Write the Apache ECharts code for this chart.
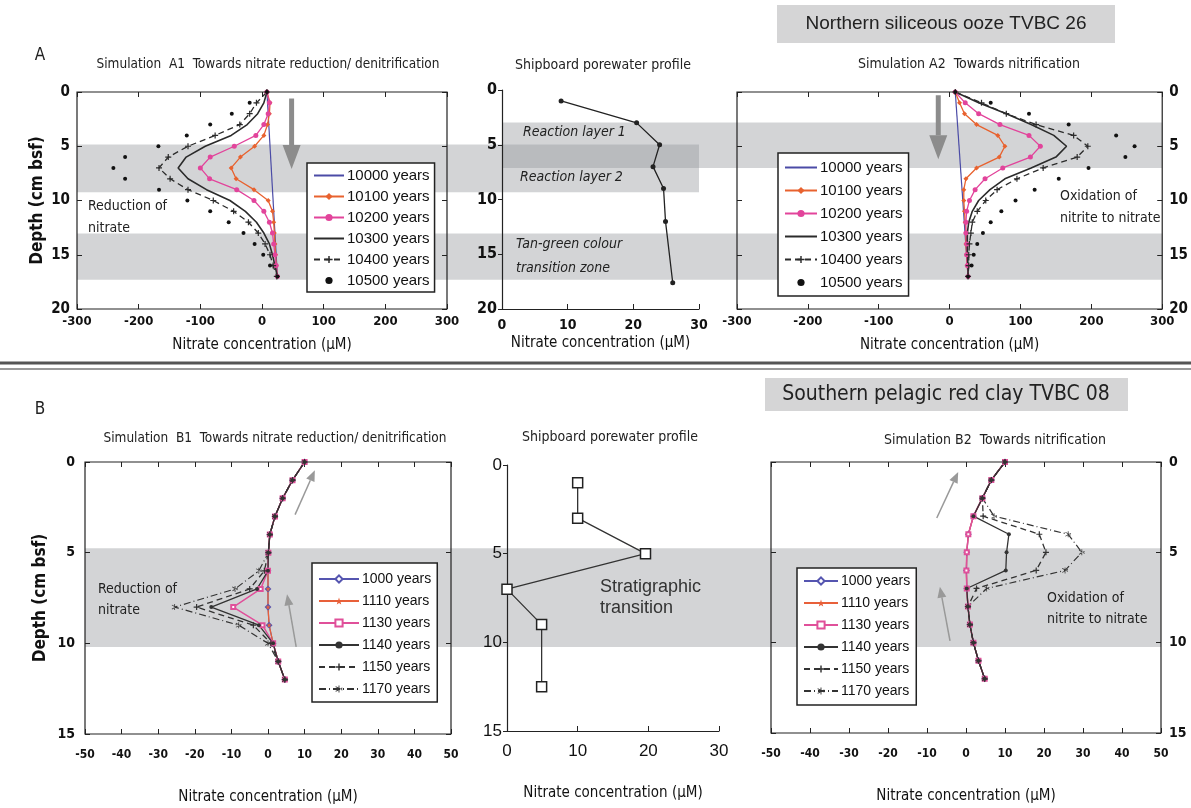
<!DOCTYPE html>
<html>
<head>
<meta charset="utf-8">
<script src="https://cdn.jsdelivr.net/npm/echarts@6/dist/echarts.min.js"></script>
<style>
html, body { margin: 0; padding: 0; background: #fff; }
#chart { width: 1191px; height: 808px; }
</style>
</head>
<body>
<div id="chart"></div>
<script>
// ---- data: panel A (Northern siliceous ooze TVBC 26) ----
const depthA = [0, 1, 2, 3, 4, 5, 6, 7, 8, 9, 10, 11, 12, 13, 14, 15, 16, 17];
const depthLine = [0, 17];
const namesA = ['10000 years', '10100 years', '10200 years', '10300 years', '10400 years', '10500 years'];

const a1_10000 = [8, 25];
const a1_10100 = [8, 13, 12, 9, 3, -12, -35, -50, -42, -13, 10, 17, 19, 20, 21, 22, 23, 25];
const a1_10200 = [8, 12, 10, 3, -10, -45, -84, -100, -85, -41, -13, 3, 12, 17, 19, 21, 23, 25];
const a1_10300 = [8, 3, -7, -24, -50, -92, -123, -136, -120, -90, -52, -27, -9, 3, 12, 17, 21, 25];
const a1_10400 = [8, -9, -20, -36, -76, -120, -152, -167, -149, -120, -79, -46, -22, -6, 5, 13, 18, 24];
const a1_10500 = [8, -20, -49, -84, -122, -168, -222, -241, -222, -167, -121, -84, -54, -30, -12, 2, 13, 25];

const a2_10000 = [8, 26];
const a2_10100 = [8, 14, 21, 38, 68, 78, 70, 38, 23, 20, 20, 21, 22, 23, 23, 24, 25, 26];
const a2_10200 = [8, 22, 41, 71, 112, 128, 114, 75, 50, 36, 28, 24, 23, 23, 24, 24, 25, 26];
const a2_10300 = [8, 41, 80, 115, 147, 165, 150, 115, 78, 57, 41, 32, 27, 25, 25, 25, 26, 26];
const a2_10400 = [8, 45, 80, 122, 175, 195, 180, 132, 95, 67, 51, 39, 32, 30, 28, 27, 27, 26];
const a2_10500 = [8, 58, 112, 168, 235, 261, 248, 196, 154, 120, 93, 73, 58, 47, 39, 34, 31, 26];

const amNitrate = [9, 20.5, 24, 23, 24.6, 24.9, 26];
const amDepth = [1, 3, 5, 7, 9, 12, 17.6];

// ---- data: panel B (Southern pelagic red clay TVBC 08) ----
const depthB = [0, 1, 2, 3, 4, 5, 6, 7, 8, 9, 10, 11, 12];
const namesB = ['1000 years', '1110 years', '1130 years', '1140 years', '1150 years', '1170 years'];

const b1_1000 = [10, 6.7, 4.0, 1.9, 0.5, 0.1, 0, 0, 0, 0.3, 1.4, 2.8, 4.6];
const b1_1110 = [10, 6.7, 4.0, 1.9, 0.5, 0.1, 0, 0, 0, 0.3, 1.4, 2.8, 4.6];
const b1_1130 = [10, 6.7, 4.0, 1.9, 0.5, 0.1, 0, -2, -9.5, -1.5, 1.4, 2.8, 4.6];
const b1_1140 = [10, 6.7, 4.0, 1.9, 0.5, 0.1, 0, -3, -15.5, -2.5, 1.4, 2.8, 4.6];
const b1_1150 = [10, 6.7, 4.0, 1.9, 0.5, 0.1, -1, -5, -19.5, -4, 0.8, 2.8, 4.6];
const b1_1170 = [10, 6.7, 4.0, 1.9, 0.5, 0.1, -2.5, -9, -25.5, -8, 0, 2.8, 4.6];

const b2_1000 = [10, 6.5, 4.2, 1.9, 0.6, 0.2, 0.1, 0.2, 0.5, 1.0, 1.9, 3.2, 4.8];
const b2_1110 = [10, 6.5, 4.2, 1.9, 0.6, 0.2, 0.1, 0.2, 0.5, 1.0, 1.9, 3.2, 4.8];
const b2_1130 = [10, 6.5, 4.2, 1.9, 0.6, 0.2, 0.1, 0.2, 0.5, 1.0, 1.9, 3.2, 4.8];
const b2_1140 = [10, 6.5, 4.2, 1.9, 11, 10.4, 10.2, 0.2, 0.5, 1.0, 1.9, 3.2, 4.8];
const b2_1150 = [10, 6.5, 4.2, 4.4, 18.8, 20.5, 18, 2.7, 0.5, 1.0, 1.9, 3.2, 4.8];
const b2_1170 = [10, 6.5, 4.2, 7.2, 26.2, 29.7, 25.4, 5.3, 0.5, 1.0, 1.9, 3.2, 4.8];

const bmNitrate = [10, 10, 19.6, 0, 4.9, 4.9];
const bmDepth = [1, 3, 5, 7, 9, 12.5];

// shaded layers (depth ranges, cm)
const layerA1 = [2.8, 7.0];    // reaction layer 1
const layerA2 = [4.85, 9.25];  // reaction layer 2
const layerA3 = [13.05, 17.3]; // tan-green colour transition zone
const layerB = [4.75, 10.2];   // stratigraphic transition

const NARROW = "'Liberation Sans Narrow', 'DejaVu Sans Condensed', sans-serif";
const SANS = "'Liberation Sans', Arial, sans-serif";
const PLUS = 'path://M4,0h2v4h4v2h-4v4h-2v-4h-4v-2h4z';
const STAR = 'path://M5,0L6.2,3.6L10,3.6L7,5.9L8.1,9.5L5,7.3L1.9,9.5L3,5.9L0,3.6L3.8,3.6Z';
const ASTER = 'path://M4.4,0h1.2v10h-1.2z M0.3,2.1l0.6,-1l8.8,5.1l-0.6,1z M0.3,7.9l0.6,1l8.8,-5.1l-0.6,-1z';

const chart = echarts.init(document.getElementById('chart'));

function pairs(vals, depths) {
    return depths.map((d, i) => [vals[i], d]);
}

function mk(name, vals, depths, g, st) {
    return Object.assign({
        type: 'line', name: name, xAxisIndex: g, yAxisIndex: g,
        data: pairs(vals, depths), silent: true, z: 3
    }, st);
}

const stA = [
    { symbol: 'none', lineStyle: { color: '#4b4ba6', width: 1.2 }, itemStyle: { color: '#4b4ba6' } },
    { symbol: 'diamond', symbolSize: 5, lineStyle: { color: '#e8622f', width: 1.3 }, itemStyle: { color: '#e8622f' } },
    { symbol: 'circle', symbolSize: 5, lineStyle: { color: '#e2449b', width: 1.3 }, itemStyle: { color: '#e2449b' } },
    { symbol: 'none', lineStyle: { color: '#2b2b2b', width: 1.6 }, itemStyle: { color: '#2b2b2b' } },
    { symbol: PLUS, symbolSize: 6, lineStyle: { color: '#2b2b2b', width: 1.3, type: [6, 4] }, itemStyle: { color: '#2b2b2b' } },
    { symbol: 'circle', symbolSize: 4, lineStyle: { width: 0, opacity: 0 }, itemStyle: { color: '#111' } }
];
const stB = [
    { symbol: 'emptyDiamond', symbolSize: 4, lineStyle: { color: '#5555b0', width: 1.2 }, itemStyle: { color: '#5555b0' } },
    { symbol: STAR, symbolSize: 5, lineStyle: { color: '#e8603a', width: 1.3 }, itemStyle: { color: '#e8603a' } },
    { symbol: 'emptyRect', symbolSize: 4, lineStyle: { color: '#e0509a', width: 1.5 }, itemStyle: { color: '#e0509a' } },
    { symbol: 'circle', symbolSize: 4, lineStyle: { color: '#333', width: 1.3 }, itemStyle: { color: '#333' } },
    { symbol: PLUS, symbolSize: 6, lineStyle: { color: '#333', width: 1.3, type: [6, 4] }, itemStyle: { color: '#333' } },
    { symbol: ASTER, symbolSize: 6, lineStyle: { color: '#333', width: 1.2, type: [7, 3, 1, 3] }, itemStyle: { color: '#333' } }
];

const a1Vals = [a1_10000, a1_10100, a1_10200, a1_10300, a1_10400, a1_10500];
const a2Vals = [a2_10000, a2_10100, a2_10200, a2_10300, a2_10400, a2_10500];
const b1Vals = [b1_1000, b1_1110, b1_1130, b1_1140, b1_1150, b1_1170];
const b2Vals = [b2_1000, b2_1110, b2_1130, b2_1140, b2_1150, b2_1170];

const series = [];
a1Vals.forEach((v, i) => series.push(mk(namesA[i], v, i === 0 ? depthLine : depthA, 0, stA[i])));
a2Vals.forEach((v, i) => series.push(mk(namesA[i], v, i === 0 ? depthLine : depthA, 2, stA[i])));
b1Vals.forEach((v, i) => series.push(mk(namesB[i], v, depthB, 3, stB[i])));
b2Vals.forEach((v, i) => series.push(mk(namesB[i], v, depthB, 5, stB[i])));
series.push(mk('A porewater', amNitrate, amDepth, 1, {
    symbol: 'circle', symbolSize: 5, lineStyle: { color: '#222', width: 1.3 }, itemStyle: { color: '#222' }
}));
series.push(mk('B porewater', bmNitrate, bmDepth, 4, {
    symbol: 'rect', symbolSize: 10, lineStyle: { color: '#333', width: 1.3 },
    itemStyle: { color: '#fff', borderColor: '#222', borderWidth: 1.5 }
}));

const boxGrid = { show: true, borderColor: '#222', borderWidth: 1.2, backgroundColor: 'transparent' };
const grids = [
    Object.assign({ left: 77, top: 92, width: 370, height: 217 }, boxGrid),
    { left: 502, top: 90, width: 197, height: 219 },
    Object.assign({ left: 737, top: 92, width: 433, height: 217 }, boxGrid),
    Object.assign({ left: 85, top: 462, width: 366, height: 272 }, boxGrid),
    { left: 507, top: 465, width: 212, height: 266 },
    Object.assign({ left: 771, top: 462, width: 390, height: 271 }, boxGrid)
];

const xName = 'Nitrate concentration (\u00b5M)';
const nameStyle = { fontFamily: NARROW, fontSize: 15, color: '#111' };
const hiddenLine = { show: false, onZero: false };
const openLine = { show: true, onZero: false, lineStyle: { color: '#222', width: 1.2 } };

function xAx(g, min, max, interval, o) {
    return Object.assign({
        type: 'value', gridIndex: g, min: min, max: max, interval: interval, position: 'bottom',
        axisLine: hiddenLine, splitLine: { show: false },
        axisTick: { inside: true, length: 5, lineStyle: { color: '#222' } },
        axisLabel: { fontFamily: NARROW, fontSize: 13, fontWeight: 'bold', color: '#111', margin: 6 },
        name: xName, nameLocation: 'middle', nameGap: 29, nameTextStyle: nameStyle
    }, o);
}
function yAx(g, max, pos, o) {
    return Object.assign({
        type: 'value', gridIndex: g, min: 0, max: max, interval: 5, inverse: true, position: pos,
        axisLine: hiddenLine, splitLine: { show: false },
        axisTick: { inside: true, length: 5, lineStyle: { color: '#222' } },
        axisLabel: { fontFamily: NARROW, fontSize: 15, fontWeight: 'bold', color: '#111', margin: 7 }
    }, o);
}
function mirrorX(g, min, max, interval) {
    return xAx(g, min, max, interval, { position: 'top', axisLabel: { show: false }, name: '' });
}
function mirrorY(g, max, pos) {
    return yAx(g, max, pos, { axisLabel: { show: false } });
}
const depthName = {
    name: 'Depth (cm bsf)', nameLocation: 'middle', nameRotate: 90,
    nameTextStyle: { fontFamily: NARROW, fontSize: 17, fontWeight: 'bold', color: '#111' }
};

const xAxes = [
    xAx(0, -300, 300, 100),
    xAx(1, 0, 30, 10, { axisLine: openLine, nameGap: 27, axisLabel: { fontFamily: NARROW, fontSize: 14, fontWeight: 'bold', color: '#111', margin: 9 } }),
    xAx(2, -300, 300, 100),
    xAx(3, -50, 50, 10, { nameGap: 56, axisLabel: { fontFamily: NARROW, fontSize: 12, fontWeight: 'bold', color: '#111', margin: 15 } }),
    xAx(4, 0, 30, 10, { axisLine: openLine, nameGap: 55, axisLabel: { fontFamily: SANS, fontSize: 17, color: '#111', margin: 12 } }),
    xAx(5, -50, 50, 10, { nameGap: 56, axisLabel: { fontFamily: NARROW, fontSize: 12, fontWeight: 'bold', color: '#111', margin: 15 } }),
    mirrorX(0, -300, 300, 100), mirrorX(2, -300, 300, 100), mirrorX(3, -50, 50, 10), mirrorX(5, -50, 50, 10)
];
const yAxes = [
    yAx(0, 20, 'left', Object.assign({ nameGap: 31 }, depthName)),
    yAx(1, 20, 'left', { axisLine: openLine, axisTick: { inside: false, length: 4, lineStyle: { color: '#222' } },
        axisLabel: { fontFamily: NARROW, fontSize: 16, fontWeight: 'bold', color: '#111', margin: 5 } }),
    yAx(2, 20, 'right'),
    yAx(3, 15, 'left', Object.assign({ nameGap: 36, axisLabel: { fontFamily: NARROW, fontSize: 14, fontWeight: 'bold', color: '#111', margin: 10 } }, depthName)),
    yAx(4, 15, 'left', { axisLine: openLine, axisTick: { inside: false, length: 4, lineStyle: { color: '#222' } },
        axisLabel: { fontFamily: SANS, fontSize: 17, color: '#111', margin: 5 } }),
    yAx(5, 15, 'right', { axisLabel: { fontFamily: NARROW, fontSize: 14, fontWeight: 'bold', color: '#111', margin: 8 } }),
    mirrorY(0, 20, 'right'), mirrorY(2, 20, 'left'), mirrorY(3, 15, 'right'), mirrorY(5, 15, 'left')
];

// legend entries; series drawn without markers get a plain line icon
function legendItems(names, styles) {
    return names.map((n, i) => styles[i].symbol === 'none' ? { name: n, itemStyle: { opacity: 0 } } : { name: n });
}
function legend(items, left, top, gap, pad, iw, fs) {
    return {
        data: items, orient: 'vertical', left: left, top: top, itemGap: gap, padding: pad,
        itemWidth: iw, itemHeight: 9, selectedMode: false, backgroundColor: '#fff',
        borderColor: '#222', borderWidth: 1.5, borderRadius: 0,
        textStyle: { fontFamily: SANS, fontSize: fs, color: '#111', padding: [0, 0, 0, -2] }
    };
}

chart.setOption({
    animation: false,
    grid: grids,
    xAxis: xAxes,
    yAxis: yAxes,
    legend: [
        legend(legendItems(namesA, stA), 307, 163, 6, [5, 5, 4, 6], 30, 15),
        legend(legendItems(namesA, stA), 778, 153, 8, [7, 6, 6, 6], 32, 15),
        legend(legendItems(namesB, stB), 312, 563, 8, [9, 6, 6, 6], 40, 14),
        legend(legendItems(namesB, stB), 797, 568, 8, [6, 6, 7, 6], 34, 14)
    ],
    series: series
});

// ---- annotations placed through the axes ----
const px = (g, v) => chart.convertToPixel({ xAxisIndex: g }, v);
const py = (g, d) => chart.convertToPixel({ yAxisIndex: g }, d);
const BAND = 'rgba(150,153,158,0.42)';

function band(x1, x2, y1, y2) {
    return { type: 'rect', shape: { x: x1, y: y1, width: x2 - x1, height: y2 - y1 }, style: { fill: BAND }, z: -5, silent: true };
}
function arrow(g, a, w, L, hw, color) {
    const p1 = [px(g, a[0]), py(g, a[1])], p2 = [px(g, a[2]), py(g, a[3])];
    const dx = p2[0] - p1[0], dy = p2[1] - p1[1], len = Math.hypot(dx, dy);
    const ux = dx / len, uy = dy / len;
    const bx = p2[0] - ux * L, by = p2[1] - uy * L;
    return [
        { type: 'line', shape: { x1: p1[0], y1: p1[1], x2: bx, y2: by }, style: { stroke: color, lineWidth: w }, z: 50 },
        { type: 'polygon', shape: { points: [p2, [bx - uy * hw, by + ux * hw], [bx + uy * hw, by - ux * hw]] }, style: { fill: color }, z: 50 }
    ];
}
function txt(x, y, text, font, align, o) {
    return {
        type: 'text', x: x, y: y, z: 60, silent: true,
        style: Object.assign({ text: text, font: font, fill: '#222', textAlign: align, align: align,
            textVerticalAlign: 'middle', verticalAlign: 'middle' }, o || {})
    };
}

const g = [];
g.push(band(px(1, 0), px(2, 300), py(2, layerA1[0]), py(2, layerA1[1])));
g.push(band(px(0, -300), px(1, 30), py(0, layerA2[0]), py(0, layerA2[1])));
g.push(band(px(0, -300), px(2, 300), py(0, layerA3[0]), py(0, layerA3[1])));
g.push(band(px(3, -50), px(5, 50), py(3, layerB[0]), py(3, layerB[1])));

// arrows: [x tail, depth tail, x tip, depth tip]
arrow(0, [48, 0.6, 48, 7.1], 5, 24, 9, '#8c8c8c').forEach(e => g.push(e));
arrow(2, [-16, 0.3, -16, 6.2], 5, 24, 9, '#8c8c8c').forEach(e => g.push(e));
arrow(3, [7.4, 2.9, 12.8, 0.45], 1.5, 11, 4.5, '#999').forEach(e => g.push(e));
arrow(3, [7.7, 10.2, 5.2, 7.3], 1.5, 11, 4.5, '#999').forEach(e => g.push(e));
arrow(5, [-7.5, 3.1, -2, 0.55], 1.5, 11, 4.5, '#999').forEach(e => g.push(e));
arrow(5, [-4.1, 9.9, -6.7, 6.9], 1.5, 11, 4.5, '#999').forEach(e => g.push(e));

// header boxes and separator
g.push({ type: 'rect', shape: { x: 777, y: 5, width: 338, height: 38 }, style: { fill: '#d5d5d6' }, z: 40 });
g.push(txt(946, 24, 'Northern siliceous ooze TVBC 26', '19px ' + SANS, 'center'));
g.push({ type: 'rect', shape: { x: 765, y: 378, width: 363, height: 33 }, style: { fill: '#d5d5d6' }, z: 40 });
g.push(txt(946, 395, 'Southern pelagic red clay TVBC 08', '21px ' + NARROW, 'center'));
g.push({ type: 'line', shape: { x1: 0, y1: 363, x2: 1191, y2: 363 }, style: { stroke: '#555', lineWidth: 3 }, z: 40 });
g.push({ type: 'line', shape: { x1: 0, y1: 369, x2: 1191, y2: 369 }, style: { stroke: '#777', lineWidth: 1.5 }, z: 40 });

g.push(txt(40, 56, 'A', '17px ' + NARROW, 'center'));
g.push(txt(40, 410, 'B', '17px ' + NARROW, 'center'));

// panel titles
g.push(txt(268, 64, 'Simulation  A1  Towards nitrate reduction/ denitrification', '13.5px ' + NARROW, 'center'));
g.push(txt(603, 65, 'Shipboard porewater profile', '14px ' + NARROW, 'center'));
g.push(txt(969, 64, 'Simulation A2  Towards nitrification', '14px ' + NARROW, 'center'));
g.push(txt(275, 438, 'Simulation  B1  Towards nitrate reduction/ denitrification', '13.5px ' + NARROW, 'center'));
g.push(txt(610, 437, 'Shipboard porewater profile', '14px ' + NARROW, 'center'));
g.push(txt(995, 440, 'Simulation B2  Towards nitrification', '14px ' + NARROW, 'center'));

// in-plot notes
g.push(txt(88, 217, 'Reduction of\nnitrate', '14px ' + NARROW, 'left', { lineHeight: 22 }));
g.push(txt(1060, 207, 'Oxidation of\nnitrite to nitrate', '14px ' + NARROW, 'left', { lineHeight: 22 }));
g.push(txt(98, 600, 'Reduction of\nnitrate', '14px ' + NARROW, 'left', { lineHeight: 21 }));
g.push(txt(1047, 609, 'Oxidation of\nnitrite to nitrate', '14px ' + NARROW, 'left', { lineHeight: 21 }));
g.push(txt(523, 132, 'Reaction layer 1', 'italic 14px ' + NARROW, 'left'));
g.push(txt(520, 177, 'Reaction layer 2', 'italic 14px ' + NARROW, 'left'));
g.push(txt(516, 256, 'Tan-green colour\ntransition zone', 'italic 14px ' + NARROW, 'left', { lineHeight: 24 }));
g.push(txt(600, 598, 'Stratigraphic\ntransition', '18px ' + SANS, 'left', { lineHeight: 21, fill: '#333' }));

chart.setOption({ graphic: g });
</script>
</body>
</html>
